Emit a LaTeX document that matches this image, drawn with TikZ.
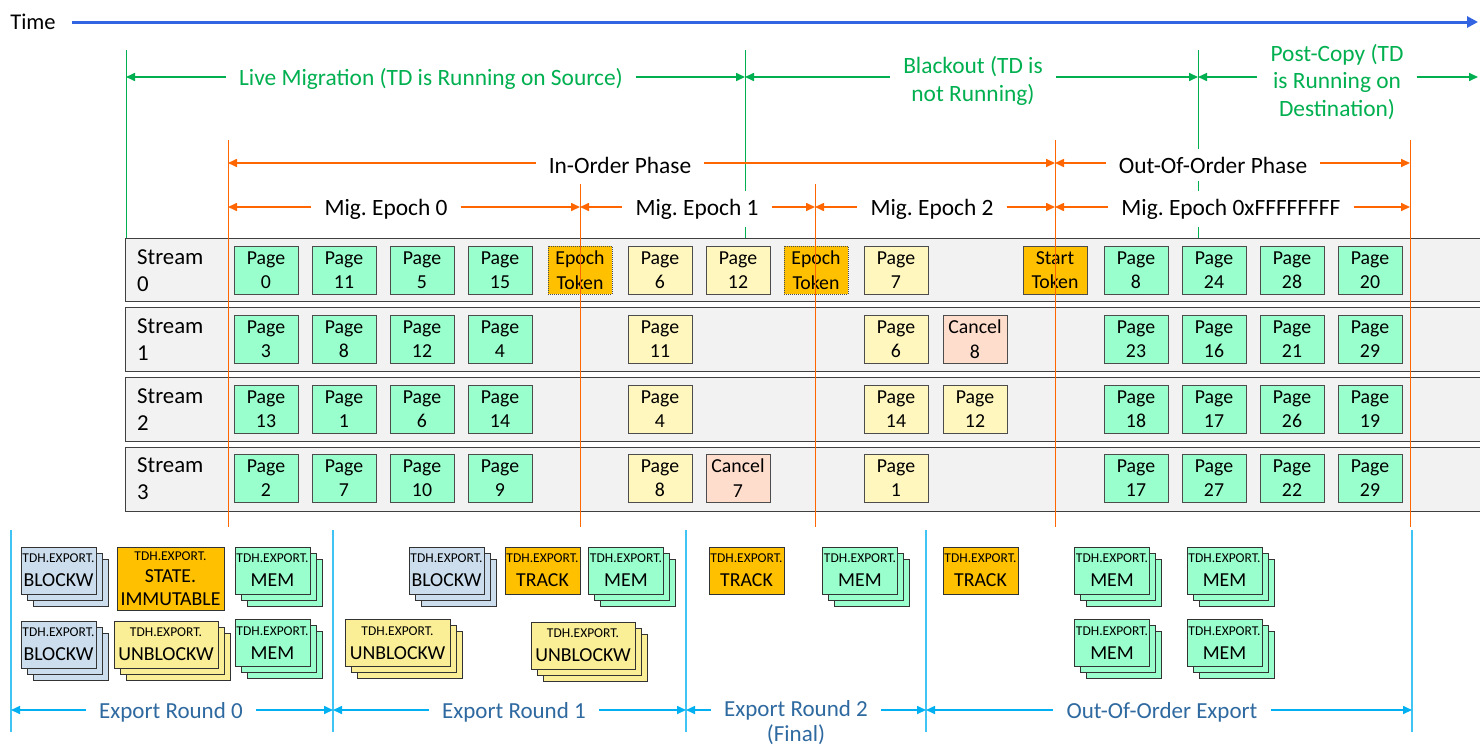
\documentclass[tikz,border=0pt]{standalone}
\usepackage{fontspec}
\setmainfont{Carlito}
\usetikzlibrary{arrows.meta}
\frenchspacing
\definecolor{tblue}{RGB}{50,100,225}
\definecolor{mgreen}{RGB}{0,176,80}
\definecolor{morange}{RGB}{255,102,0}
\definecolor{lblue}{RGB}{0,176,240}
\definecolor{etext}{RGB}{46,105,160}
\definecolor{pgreen}{RGB}{153,255,204}
\definecolor{pyellow}{RGB}{255,247,189}
\definecolor{pcancel}{RGB}{255,221,204}
\definecolor{ptoken}{RGB}{255,192,0}
\definecolor{bblue}{RGB}{204,222,238}
\definecolor{byellow}{RGB}{250,238,150}
\definecolor{rowfill}{RGB}{242,242,242}
\newcommand\tdh{{\fontsize{13.5}{15}\selectfont TDH.EXPORT.}}
\newcommand\expstack[6]{%
  \node[ebox,fill=#5,minimum width=#4pt] (#1c) at (#2+12,#3+12) {};
  \node[ebox,fill=#5,minimum width=#4pt] (#1b) at (#2+6,#3+6) {};
  \node[ebox,fill=#5,minimum width=#4pt] (#1) at (#2,#3) {#6};}
\begin{document}
\begin{tikzpicture}[x=1pt,y=-1pt,
  pg/.style={draw=black!70, line width=1pt, minimum width=64pt, minimum height=48pt, inner sep=0pt, align=center, font=\fontsize{19.8}{24.5}\selectfont},
  pgG/.style={pg, fill=pgreen},
  pgY/.style={pg, fill=pyellow},
  pgC/.style={pg, fill=pcancel},
  tok/.style={pg, fill=ptoken},
  etok/.style={tok, densely dotted},
  lbl/.style={font=\fontsize{23.4}{27.5}\selectfont, inner xsep=13pt, inner ysep=8pt, fill=white, align=center},
  garr/.style={draw=mgreen, line width=1.6pt, -{Triangle[length=9pt,width=8pt]}},
  oarr/.style={draw=morange, line width=1.6pt, -{Triangle[length=9pt,width=8pt]}},
  barr/.style={draw=lblue, line width=1.6pt, -{Triangle[length=9pt,width=8pt]}},
  gv/.style={draw=mgreen, line width=1pt},
  ov/.style={draw=morange, line width=1pt},
  bv/.style={draw=lblue!75, line width=1.5pt},
  rowbox/.style={draw=black!75, line width=1pt, fill=rowfill},
  ebox/.style={draw=black!80, line width=0.9pt, minimum height=47pt, inner sep=0pt, align=center, font=\fontsize{19.8}{24}\selectfont},
  strm/.style={font=\fontsize{22.8}{27}\selectfont, align=left, inner sep=0pt, anchor=west},
  elbl/.style={lbl, text=etext, font=\fontsize{23}{27}\selectfont}
]
\useasboundingbox[fill=white] (0,0) rectangle (1480,747);

% time axis
\node[font=\fontsize{22.5}{26}\selectfont, inner sep=0pt] (time) at (33,22) {Time};
\coordinate (t0) at (72,22);
\coordinate (t1) at (1478,22);
\draw[draw=tblue, line width=3pt, -{Triangle[length=11pt,width=11pt]}] (t0) -- (t1);

% green verticals
\coordinate (gv0t) at (126,50); \coordinate (gv0b) at (126,238);
\coordinate (gv1t) at (745,50); \coordinate (gv1b) at (745,238);
\coordinate (gv2t) at (1198,50); \coordinate (gv2b) at (1198,238);
\draw[gv] (gv0t) -- (gv0b);
\draw[gv] (gv1t) -- (gv1b);
\draw[gv] (gv2t) -- (gv2b);

% stream rows
\path[rowbox] (125,238) rectangle (1482,301);
\path[rowbox] (125,307) rectangle (1482,371);
\path[rowbox] (125,377) rectangle (1482,441);
\path[rowbox] (125,447) rectangle (1482,511);
\node[strm] (s0) at (137,271) {Stream\\0};
\node[strm] (s1) at (137,340) {Stream\\1};
\node[strm] (s2) at (137,410) {Stream\\2};
\node[strm] (s3) at (137,479) {Stream\\3};

% row 0
\node[pgG] (a0) at (266,270) {Page\\0};
\node[pgG] (a1) at (344,270) {Page\\11};
\node[pgG] (a2) at (422,270) {Page\\5};
\node[pgG] (a3) at (500,270) {Page\\15};
\node[etok] (a4) at (580,270) {Epoch\\Token};
\node[pgY] (a5) at (660,270) {Page\\6};
\node[pgY] (a6) at (738,270) {Page\\12};
\node[etok] (a7) at (816,270) {Epoch\\Token};
\node[pgY] (a8) at (896,270) {Page\\7};
\node[tok] (a10) at (1055,270) {Start\\Token};
\node[pgG] (a11) at (1136,270) {Page\\8};
\node[pgG] (a12) at (1214,270) {Page\\24};
\node[pgG] (a13) at (1292,270) {Page\\28};
\node[pgG] (a14) at (1370,270) {Page\\20};
% row 1
\node[pgG] (b0) at (266,339) {Page\\3};
\node[pgG] (b1) at (344,339) {Page\\8};
\node[pgG] (b2) at (422,339) {Page\\12};
\node[pgG] (b3) at (500,339) {Page\\4};
\node[pgY] (b5) at (660,339) {Page\\11};
\node[pgY] (b8) at (896,339) {Page\\6};
\node[pgC] (b9) at (975,339) {Cancel\\8};
\node[pgG] (b11) at (1136,339) {Page\\23};
\node[pgG] (b12) at (1214,339) {Page\\16};
\node[pgG] (b13) at (1292,339) {Page\\21};
\node[pgG] (b14) at (1370,339) {Page\\29};
% row 2
\node[pgG] (c0) at (266,409) {Page\\13};
\node[pgG] (c1) at (344,409) {Page\\1};
\node[pgG] (c2) at (422,409) {Page\\6};
\node[pgG] (c3) at (500,409) {Page\\14};
\node[pgY] (c5) at (660,409) {Page\\4};
\node[pgY] (c8) at (896,409) {Page\\14};
\node[pgY] (c9) at (975,409) {Page\\12};
\node[pgG] (c11) at (1136,409) {Page\\18};
\node[pgG] (c12) at (1214,409) {Page\\17};
\node[pgG] (c13) at (1292,409) {Page\\26};
\node[pgG] (c14) at (1370,409) {Page\\19};
% row 3
\node[pgG] (d0) at (266,478) {Page\\2};
\node[pgG] (d1) at (344,478) {Page\\7};
\node[pgG] (d2) at (422,478) {Page\\10};
\node[pgG] (d3) at (500,478) {Page\\9};
\node[pgY] (d5) at (660,478) {Page\\8};
\node[pgC] (d6) at (738,478) {Cancel\\7};
\node[pgY] (d8) at (896,478) {Page\\1};
\node[pgG] (d11) at (1136,478) {Page\\17};
\node[pgG] (d12) at (1214,478) {Page\\27};
\node[pgG] (d13) at (1292,478) {Page\\22};
\node[pgG] (d14) at (1370,478) {Page\\29};

% orange verticals
\coordinate (ov0t) at (228,140); \coordinate (ov0b) at (228,527);
\coordinate (ov1t) at (580,184); \coordinate (ov1b) at (580,527);
\coordinate (ov2t) at (815,184); \coordinate (ov2b) at (815,527);
\coordinate (ov3t) at (1055,140); \coordinate (ov3b) at (1055,527);
\coordinate (ov4t) at (1410,140); \coordinate (ov4b) at (1410,527);
\draw[ov] (ov0t) -- (ov0b);
\draw[ov] (ov1t) -- (ov1b);
\draw[ov] (ov2t) -- (ov2b);
\draw[ov] (ov3t) -- (ov3b);
\draw[ov] (ov4t) -- (ov4b);

% green phase labels
\coordinate (gA) at (126,77); \coordinate (gB) at (745,77);
\coordinate (gC) at (1198,77); \coordinate (gD) at (1478,77);
\node[lbl, text=mgreen] (lm) at (431,79) {Live Migration (TD is Running on Source)};
\node[lbl, text=mgreen] (bo) at (973,81) {Blackout (TD is\\not Running)};
\node[lbl, text=mgreen] (pc) at (1337,82) {Post-Copy (TD\\is Running on\\Destination)};
\draw[garr] (lm.west |- gA) -- (gA);
\draw[garr] (lm.east |- gB) -- (gB);
\draw[garr] (bo.west |- gB) -- (gB);
\draw[garr] (bo.east |- gC) -- (gC);
\draw[garr] (pc.west |- gC) -- (gC);
\draw[garr] (pc.east |- gD) -- (gD);

% orange phase labels
\coordinate (oA) at (228,163); \coordinate (oB) at (1055,163); \coordinate (oC) at (1410,163);
\node[lbl] (iop) at (620,165) {In-Order Phase};
\node[lbl] (oop) at (1213,165) {Out-Of-Order Phase};
\draw[oarr] (iop.west |- oA) -- (oA);
\draw[oarr] (iop.east |- oB) -- (oB);
\draw[oarr] (oop.west |- oB) -- (oB);
\draw[oarr] (oop.east |- oC) -- (oC);

\coordinate (eA) at (228,207); \coordinate (eB) at (580,207); \coordinate (eC) at (815,207);
\coordinate (eD) at (1055,207); \coordinate (eE) at (1410,207);
\node[lbl] (e0) at (386,209) {Mig. Epoch 0};
\node[lbl] (e1) at (697,209) {Mig. Epoch 1};
\node[lbl] (e2) at (932,209) {Mig. Epoch 2};
\node[lbl] (e3) at (1231,209) {Mig. Epoch 0xFFFFFFFF};
\draw[oarr] (e0.west |- eA) -- (eA);
\draw[oarr] (e0.east |- eB) -- (eB);
\draw[oarr] (e1.west |- eB) -- (eB);
\draw[oarr] (e1.east |- eC) -- (eC);
\draw[oarr] (e2.west |- eC) -- (eC);
\draw[oarr] (e2.east |- eD) -- (eD);
\draw[oarr] (e3.west |- eD) -- (eD);
\draw[oarr] (e3.east |- eE) -- (eE);

% export rounds
\coordinate (bv0t) at (11,530); \coordinate (bv0b) at (11,732);
\coordinate (bv1t) at (333,530); \coordinate (bv1b) at (333,732);
\coordinate (bv2t) at (686,530); \coordinate (bv2b) at (686,732);
\coordinate (bv3t) at (926,530); \coordinate (bv3b) at (926,732);
\coordinate (bv4t) at (1412,530); \coordinate (bv4b) at (1412,732);
\draw[bv] (bv0t) -- (bv0b);
\draw[bv] (bv1t) -- (bv1b);
\draw[bv] (bv2t) -- (bv2b);
\draw[bv] (bv3t) -- (bv3b);
\draw[bv] (bv4t) -- (bv4b);

\coordinate (xA) at (11,710); \coordinate (xB) at (333,710); \coordinate (xC) at (686,710);
\coordinate (xD) at (926,710); \coordinate (xE) at (1412,710);
\node[elbl] (er0) at (171,712) {Export Round 0};
\node[elbl] (er1) at (514,712) {Export Round 1};
\node[elbl, inner ysep=1pt, font=\fontsize{23}{25}\selectfont] (er2) at (796,723) {Export Round 2\\(Final)};
\node[elbl] (er3) at (1162,712) {Out-Of-Order Export};
\draw[barr] (er0.west |- xA) -- (xA);
\draw[barr] (er0.east |- xB) -- (xB);
\draw[barr] (er1.west |- xB) -- (xB);
\draw[barr] (er1.east |- xC) -- (xC);
\draw[barr] (er2.west |- xC) -- (xC);
\draw[barr] (er2.east |- xD) -- (xD);
\draw[barr] (er3.west |- xD) -- (xD);
\draw[barr] (er3.east |- xE) -- (xE);

% export boxes - round 0
\expstack{bw1}{58.5}{570.5}{75}{bblue}{\tdh\\BLOCKW}
\node[ebox, fill=ptoken, minimum width=107pt, minimum height=63pt, font=\fontsize{19.8}{22.5}\selectfont] (si) at (170.5,578.5) {\tdh\\STATE.\\IMMUTABLE};
\expstack{m1}{272.5}{570.5}{75}{pgreen}{\tdh\\MEM}
\expstack{bw2}{58.5}{644.5}{75}{bblue}{\tdh\\BLOCKW}
\expstack{ub1}{166}{644.5}{104}{byellow}{\tdh\\UNBLOCKW}
\expstack{m2}{272.5}{643}{75}{pgreen}{\tdh\\MEM}
% round 1
\expstack{bw3}{446.5}{570.5}{75}{bblue}{\tdh\\BLOCKW}
\node[ebox, fill=ptoken, minimum width=75pt] (tr1) at (542.5,570.5) {\tdh\\TRACK};
\expstack{m3}{626}{570.5}{75}{pgreen}{\tdh\\MEM}
\expstack{ub2}{397.5}{643}{105}{byellow}{\tdh\\UNBLOCKW}
\expstack{ub3}{583}{645.5}{104}{byellow}{\tdh\\UNBLOCKW}
% round 2
\node[ebox, fill=ptoken, minimum width=75pt] (tr2) at (746.5,570.5) {\tdh\\TRACK};
\expstack{m4}{860}{570.5}{75}{pgreen}{\tdh\\MEM}
% out-of-order
\node[ebox, fill=ptoken, minimum width=75pt] (tr3) at (980.5,570.5) {\tdh\\TRACK};
\expstack{m5}{1112}{570.5}{75}{pgreen}{\tdh\\MEM}
\expstack{m6}{1224.5}{570.5}{75}{pgreen}{\tdh\\MEM}
\expstack{m7}{1112}{643}{75}{pgreen}{\tdh\\MEM}
\expstack{m8}{1224.5}{643}{75}{pgreen}{\tdh\\MEM}
\end{tikzpicture}
\end{document}
